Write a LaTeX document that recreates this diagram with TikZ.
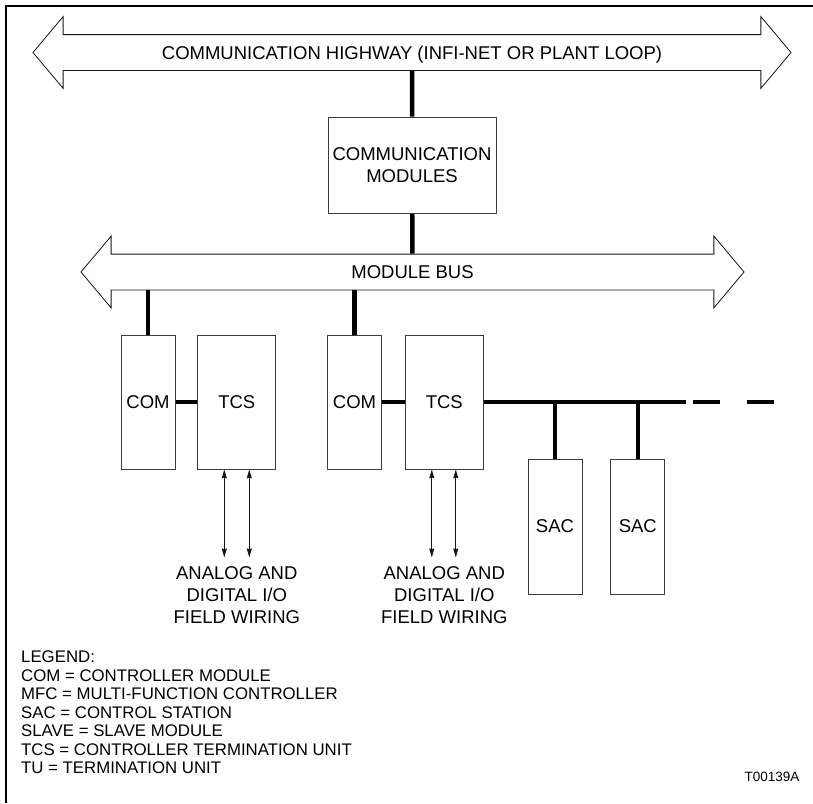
\documentclass[tikz,border=0pt]{standalone}
\usepackage{fontspec}
\setmainfont{Liberation Sans}
\usetikzlibrary{shapes.arrows, arrows.meta, positioning, backgrounds}
\definecolor{linecolor}{RGB}{20, 20, 20}
\definecolor{edgecolor}{RGB}{60, 60, 60}
\tikzset{
  unitbox/.style={
    rectangle, draw=edgecolor, line width=0.8pt, fill=white,
    inner sep=0pt, text centered,
    font=\fontsize{18.5}{22}\selectfont
  },
  busarrow/.style={
    double arrow, draw=linecolor, line width=0.8pt, fill=white,
    double arrow head extend=18pt, double arrow tip angle=100,
    minimum width=71pt,
    text height=13pt, text depth=0pt, inner xsep=0pt, inner ysep=11pt,
    font=\fontsize{18.5}{22}\selectfont
  },
  fieldtext/.style={
    align=center, inner xsep=0pt, inner ysep=9pt,
    font=\fontsize{18.5}{22}\selectfont
  },
  legendtext/.style={
    align=left, inner sep=0pt, anchor=north west,
    font=\fontsize{16.8}{18.5}\selectfont
  },
  link/.style={line width=4.5pt, color=black},
  ioarr/.style={
    {Stealth[length=9pt, width=5pt, inset=1pt]}-{Stealth[length=9pt, width=5pt, inset=1pt]},
    line width=0.8pt, color=linecolor
  },
  frame/.style={line width=1.5pt, color=black}
}

\begin{document}
\begin{tikzpicture}[x=1pt, y=-1pt]

  \useasboundingbox (0,0) rectangle (813,803);

  % ── Page frame ─────────────────────────────────────────────
  \draw[frame] (6,803) -- (6,6) -- (813,6);

  % ── Highway and module bus ─────────────────────────────────
  \node[busarrow, minimum height=758pt] (highway) at (412,52.5)
    {COMMUNICATION HIGHWAY (INFI-NET OR PLANT LOOP)};
  \node[unitbox, align=center, minimum width=168pt, minimum height=96pt]
    (commod) at (412,165) {COMMUNICATION\\MODULES};
  \node[busarrow, minimum height=663pt] (bus) at (412.5,272) {MODULE BUS};

  % ── Controllers and termination units ──────────────────────
  \node[unitbox, minimum width=54pt, minimum height=134pt] (com1) at (148,402) {COM};
  \node[unitbox, minimum width=78pt, minimum height=134pt, right=22pt of com1] (tcs1) {TCS};
  \node[unitbox, minimum width=54pt, minimum height=134pt] (com2) at (354.5,402) {COM};
  \node[unitbox, minimum width=78pt, minimum height=134pt, right=23pt of com2] (tcs2) {TCS};

  % ── Control stations ───────────────────────────────────────
  \node[unitbox, minimum width=54pt, minimum height=135pt] (sac1) at (555,526.5) {SAC};
  \node[unitbox, minimum width=54pt, minimum height=135pt, right=28pt of sac1] (sac2) {SAC};

  % ── Field wiring ───────────────────────────────────────────
  \node[fieldtext, below=88pt of tcs1] (field1) {ANALOG AND\\DIGITAL I/O\\FIELD WIRING};
  \node[fieldtext, below=88pt of tcs2] (field2) {ANALOG AND\\DIGITAL I/O\\FIELD WIRING};

  \draw[ioarr] ([xshift=-12.5pt]tcs1.south) -- ([xshift=-12.5pt]field1.north);
  \draw[ioarr] ([xshift=12.5pt]tcs1.south)  -- ([xshift=12.5pt]field1.north);
  \draw[ioarr] ([xshift=-12.5pt]tcs2.south) -- ([xshift=-12.5pt]field2.north);
  \draw[ioarr] ([xshift=11.5pt]tcs2.south)  -- ([xshift=11.5pt]field2.north);

  % ── Thick links (behind the boxes) ─────────────────────────
  \coordinate (chainend)  at (686,402);
  \coordinate (dashstart) at (693,402);
  \coordinate (dashend)   at (775,402);
  \begin{scope}[on background layer]
    \draw[link] (highway) -- (commod);
    \draw[link] (commod)  -- (bus);
    \draw[link] (com1)    -- (com1 |- bus);
    \draw[link] (com2)    -- (com2 |- bus);
    \draw[link] (com1)    -- (tcs1);
    \draw[link] (com2)    -- (tcs2);
    \draw[link] (tcs2)    -- (chainend);
    \draw[link] (sac1)    -- (sac1 |- tcs2);
    \draw[link] (sac2)    -- (sac2 |- tcs2);
    \draw[link, dash pattern=on 27pt off 27pt] (dashstart) -- (dashend);
  \end{scope}

  % ── Legend ─────────────────────────────────────────────────
  \node[legendtext] (legend) at (21,651) {LEGEND:\\
    COM = CONTROLLER MODULE\\
    MFC = MULTI-FUNCTION CONTROLLER\\
    SAC = CONTROL STATION\\
    SLAVE = SLAVE MODULE\\
    TCS = CONTROLLER TERMINATION UNIT\\
    TU = TERMINATION UNIT};
  \node[font=\fontsize{13.5}{16}\selectfont] (figid) at (772,777) {T00139A};

\end{tikzpicture}
\end{document}
